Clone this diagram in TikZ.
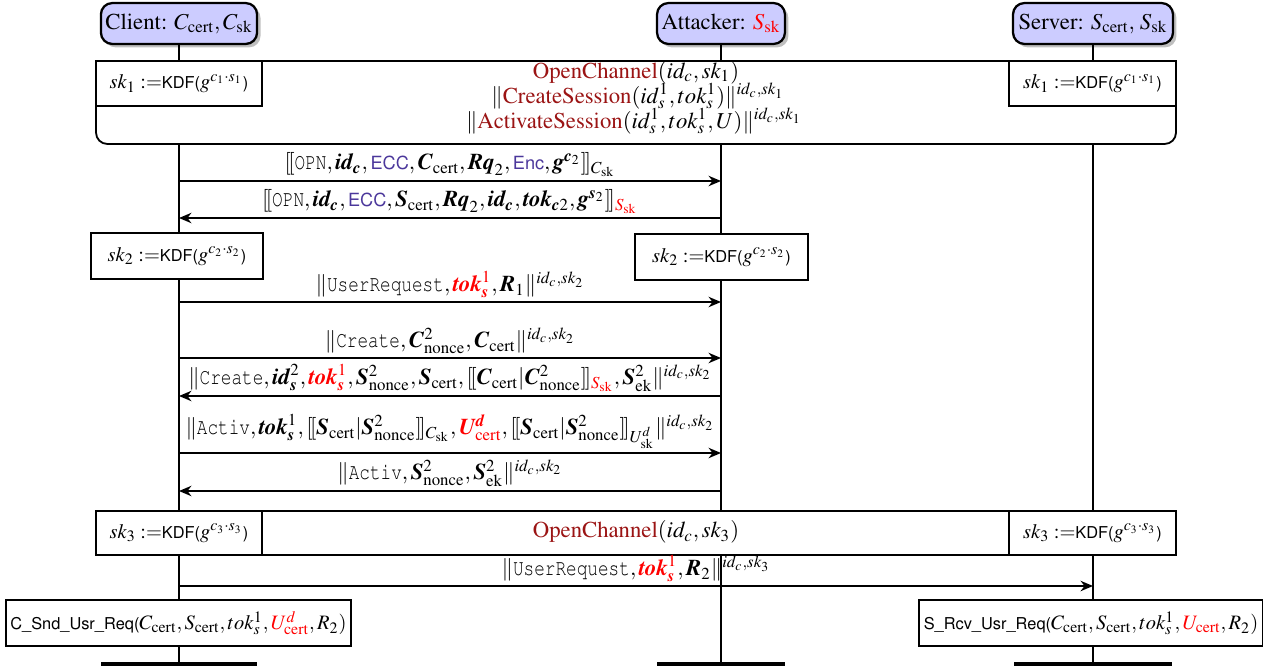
\documentclass[tikz,border=0pt]{standalone}
\usepackage[T1]{fontenc}
\usepackage{mathptmx}
\usepackage[scaled=0.8]{helvet}
\usepackage{courier}
\usepackage{amsmath}
\usepackage{graphicx}
\usetikzlibrary{arrows.meta,shadows}
\DeclareMathAlphabet{\mathbi}{T1}{ptm}{b}{it}
\definecolor{dred}{RGB}{155,20,20}
\definecolor{ecccol}{RGB}{75,55,155}
\definecolor{hdr}{RGB}{204,204,255}
\newcommand{\dlb}{[\![}
\newcommand{\drb}{]\!]}
\newcommand{\bv}[1]{\mathbi{#1}}
\newcommand{\tx}[1]{\scalebox{0.78}[1]{\texttt{#1}}}
\newcommand{\Mcert}{\mathrm{cert}}
\newcommand{\Msk}{\mathrm{sk}}
\newcommand{\Mnonce}{\mathrm{nonce}}
\newcommand{\Mek}{\mathrm{ek}}
\newcommand{\rd}[1]{{\color{red}#1}}
\newcommand{\dr}[1]{\textcolor{dred}{#1}}
\newcommand{\ecs}[1]{\textsf{\color{ecccol}#1}}
\begin{document}
\begin{tikzpicture}[x=0.44pt,y=-0.44pt,
 actor/.style={draw, line width=1pt, rounded corners=5pt, fill=hdr, minimum height=18pt, inner sep=2pt,
   drop shadow={shadow xshift=1.5pt, shadow yshift=-1.5pt, fill=black!50, opacity=0.5}},
 life/.style={line width=0.9pt},
 kdf/.style={draw, line width=0.8pt, fill=white, minimum height=19.8pt, inner sep=2pt, font=\small},
 chan/.style={draw, line width=0.8pt, fill=white, rounded corners=5pt, inner sep=0pt},
 msg/.style={line width=0.7pt, -{Stealth[length=5.5pt,width=4.6pt,inset=1.8pt]}},
 lbl/.style={above, inner sep=1.5pt},
 endbar/.style={fill=black, inner sep=0pt, minimum height=1.8pt},
 big/.style={font=\fontsize{10}{12}\selectfont}]
\useasboundingbox (0,0) rectangle (1263,666);

% headers
\node[actor, minimum width=68.6pt] (hc) at (179,23.5) {Client: $C_{\Mcert},C_{\Msk}$};
\node[actor, minimum width=55pt] (ha) at (721,23.5) {Attacker: $\rd{S_{\Msk}}$};
\node[actor, minimum width=70.4pt] (hs) at (1093,23.5) {Server: $S_{\Mcert},\,S_{\Msk}$};

% end bars
\node[endbar, minimum width=69pt] (ec) at (179,664) {};
\node[endbar, minimum width=56pt] (ea) at (721,664) {};
\node[endbar, minimum width=69.5pt] (es) at (1093,664) {};

% lifelines
\draw[life] (hc.south) -- (ec.north);
\draw[life] (ha.south) -- (ea.north);
\draw[life] (hs.south) -- (es.north);

% channel 1
\node[chan, minimum width=475.2pt, minimum height=36.5pt] (ch1) at (636,102.5) {};
\node[kdf, minimum width=73pt] (k1c) at (179,83.5) {$sk_1\mathrel{:=}$\textsf{KDF(}$g^{c_1\cdot s_1}$\textsf{)}};
\node[kdf, minimum width=73.5pt] (k1s) at (1092.5,83.5) {$sk_1\mathrel{:=}$\textsf{KDF(}$g^{c_1\cdot s_1}$\textsf{)}};
\node[big, anchor=base] (t1a) at (636,78) {\dr{OpenChannel}$(id_c,sk_1)$};
\node[big, anchor=base] (t1b) at (638,103) {$\|$\dr{CreateSession}$(id^1_s,tok^1_s)\|^{id_c,sk_1}$};
\node[big, anchor=base] (t1c) at (634,128) {$\|$\dr{ActivateSession}$(id^1_s,tok^1_s,U)\|^{id_c,sk_1}$};

% messages
\coordinate (c1) at (179,181); \coordinate (a1) at (721,181);
\draw[msg] (c1) -- node[lbl] (m1) {$\dlb\tx{OPN},\bv{id_c},\ecs{ECC},\bv{C}_{\Mcert},\bv{Rq}_2,\ecs{Enc},\bv{g}^{\bv{c}_2}\drb_{C_{\Msk}}$} (a1);
\coordinate (c2) at (179,218); \coordinate (a2) at (721,218);
\draw[msg] (a2) -- node[lbl] (m2) {$\dlb\tx{OPN},\bv{id_c},\ecs{ECC},\bv{S}_{\Mcert},\bv{Rq}_2,\bv{id_c},\bv{tok}_{\bv{c}2},\bv{g}^{\bv{s}_2}\drb_{\rd{S_{\Msk}}}$} (c2);

\node[kdf, minimum width=75.7pt, minimum height=20.2pt] (k2c) at (177,256) {$sk_2\mathrel{:=}$\textsf{KDF(}$g^{c_2\cdot s_2}$\textsf{)}};
\node[kdf, minimum width=76pt, minimum height=20.2pt] (k2a) at (721.5,257) {$sk_2\mathrel{:=}$\textsf{KDF(}$g^{c_2\cdot s_2}$\textsf{)}};

\coordinate (c3) at (179,302); \coordinate (a3) at (721,302);
\draw[msg] (c3) -- node[lbl] (m3) {$\|\tx{UserRequest},\rd{\bv{tok}^1_{\bv{s}}},\bv{R}_1\|^{id_c,sk_2}$} (a3);
\coordinate (c4) at (179,358); \coordinate (a4) at (721,358);
\draw[msg] (c4) -- node[lbl] (m4) {$\|\tx{Create},\bv{C}^2_{\Mnonce},\bv{C}_{\Mcert}\|^{id_c,sk_2}$} (a4);
\coordinate (c5) at (179,396); \coordinate (a5) at (721,396);
\draw[msg] (a5) -- node[lbl] (m5) {$\|\tx{Create},\bv{id}^2_{\bv{s}},\rd{\bv{tok}^1_{\bv{s}}},\bv{S}^2_{\Mnonce},\bv{S}_{\Mcert},\dlb\bv{C}_{\Mcert}|\bv{C}^2_{\Mnonce}\drb_{\rd{S_{\Msk}}},\bv{S}^2_{\Mek}\|^{id_c,sk_2}$} (c5);
\coordinate (c6) at (179,453); \coordinate (a6) at (721,453);
\draw[msg] (c6) -- node[lbl] (m6) {$\|\tx{Activ},\bv{tok}^1_{\bv{s}},\dlb\bv{S}_{\Mcert}|\bv{S}^2_{\Mnonce}\drb_{C_{\Msk}},\rd{\bv{U}^{\bv{d}}_{\Mcert}},\dlb\bv{S}_{\Mcert}|\bv{S}^2_{\Mnonce}\drb_{U^d_{\Msk}}\|^{id_c,sk_2}$} (a6);
\coordinate (c7) at (179,491); \coordinate (a7) at (721,491);
\draw[msg] (a7) -- node[lbl] (m7) {$\|\tx{Activ},\bv{S}^2_{\Mnonce},\bv{S}^2_{\Mek}\|^{id_c,sk_2}$} (c7);

% channel 3
\node[chan, minimum width=475.2pt, minimum height=19.4pt] (ch3) at (636,533) {};
\node[kdf, minimum width=73pt, minimum height=19.4pt] (k3c) at (179,533) {$sk_3\mathrel{:=}$\textsf{KDF(}$g^{c_3\cdot s_3}$\textsf{)}};
\node[kdf, minimum width=73.5pt, minimum height=19.4pt] (k3s) at (1092.5,533) {$sk_3\mathrel{:=}$\textsf{KDF(}$g^{c_3\cdot s_3}$\textsf{)}};
\node[big] (t3) at (636,532) {\dr{OpenChannel}$(id_c,sk_3)$};

\coordinate (c8) at (179,586); \coordinate (s8) at (1093,586);
\draw[msg] (c8) -- node[lbl] (m8) {$\|\tx{UserRequest},\rd{\bv{tok}^1_{\bv{s}}},\bv{R}_2\|^{id_c,sk_3}$} (s8);

% final boxes
\node[kdf, minimum width=150pt, minimum height=20.2pt] (snd) at (178.5,623) {\textsf{C\_Snd\_Usr\_Req(}$C_{\Mcert},S_{\Mcert},tok^1_s,\rd{U^d_{\Mcert}},R_2)$};
\node[kdf, minimum width=147pt, minimum height=20.2pt] (rcv) at (1091,623) {\textsf{S\_Rcv\_Usr\_Req(}$C_{\Mcert},S_{\Mcert},tok^1_s,\rd{U_{\Mcert}},R_2)$};
\end{tikzpicture}
\end{document}
